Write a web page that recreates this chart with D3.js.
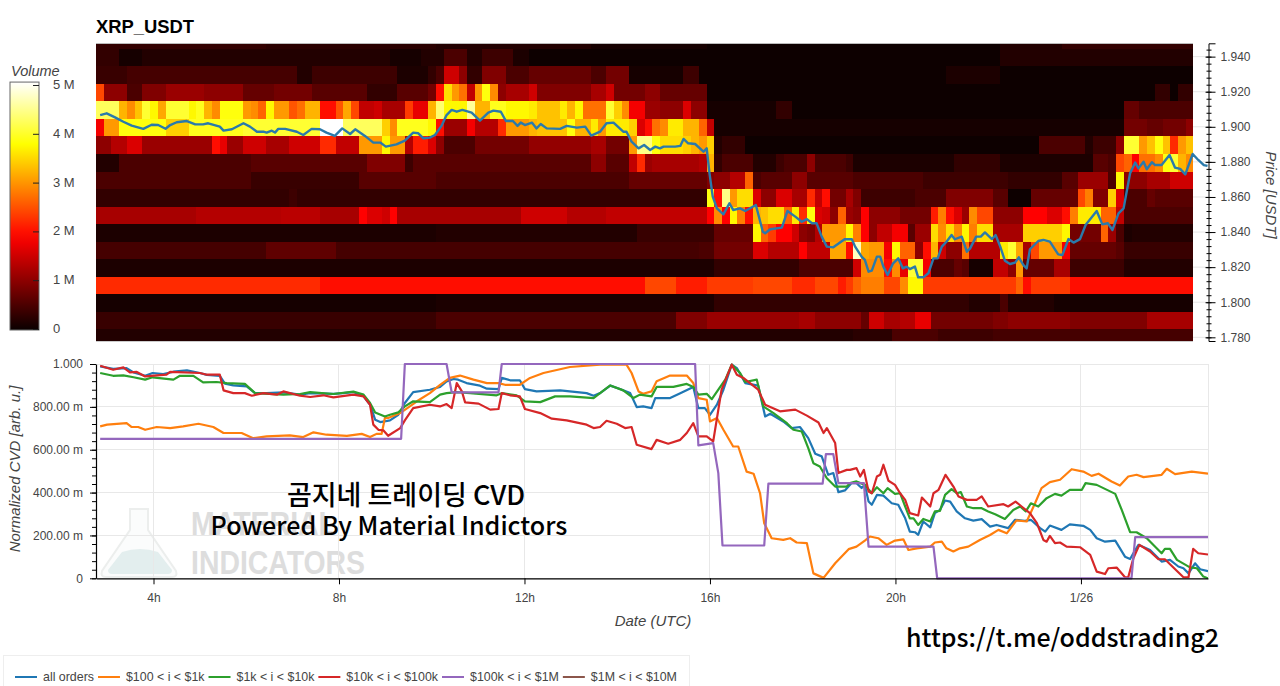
<!DOCTYPE html>
<html>
<head>
<meta charset="utf-8">
<script src="https://cdn.jsdelivr.net/npm/d3@7"></script>
<style>
  html, body { margin: 0; padding: 0; background: #fff; overflow: hidden; }
  text { font-family: "Liberation Sans", Arial, sans-serif; }
  .tick text { font-size: 12px; fill: #444; }
  .axis-label { font-size: 15px; font-style: italic; fill: #444; }
  .overlay { font-family: "Noto Sans CJK KR", "Noto Sans", sans-serif; font-weight: 500; fill: #000; }
</style>
</head>
<body>
<svg id="chart" width="1280" height="686"></svg>
<script>
// heatmap bins: 10 minutes each, starting at the left edge of the chart
var binHours = 1 / 6, binCount = 142, startHour = 2.76, endHour = 26.74;

// volume per price band, [first bin, value in M] - value holds until the next entry
var band195 = [[0,.3],[22,.25],[44,.2],[64,.1],[79,.05],[117,.2],[125,.3]];
var band194 = [[0,.3],[3,.1],[6,.2],[38,.08],[42,.2],[45,.5],[48,.2],[50,.4],[54,.15],[56,.05],[117,.2]];
var band193 = [[0,.35],[4,.45],[26,.2],[28,.4],[39,.15],[43,.3],[44,.5],[45,1.5],[47,1.0],[48,.3],[50,.9],[53,.5],[56,.7],[64,.5],[66,.8],[69,.1],[76,.4],[78,.05],[110,.15],[117,.05]];
var band192 = [[0,2.4],[1,1.0],[4,.5],[6,.9],[9,1.1],[14,1.0],[19,.7],[23,.8],[28,.6],[35,.3],[39,.6],[43,.8],[44,2.0],[45,3.5],[46,3.0],[47,2.7],[48,1.4],[49,3.0],[50,3.8],[51,2.9],[52,1.0],[53,1.2],[56,1.5],[57,.9],[64,1.2],[66,1.5],[67,.8],[71,1.0],[73,.7],[79,.05],[137,.3],[139,.05],[140,.3]];
var band191 = [[0,4.2],[3,3.2],[4,2.9],[5,3.3],[6,4.0],[7,3.7],[8,3.1],[9,4.0],[12,3.7],[13,3.9],[14,3.2],[15,2.9],[16,3.8],[19,3.0],[20,2.9],[21,2.6],[22,3.7],[23,3.0],[25,2.5],[26,2.7],[27,3.2],[29,2.0],[31,2.5],[32,3.1],[33,2.4],[34,1.4],[36,1.5],[37,1.2],[40,2.3],[41,1.7],[43,3.2],[44,4.3],[45,3.7],[48,4.5],[49,3.2],[51,3.9],[53,3.7],[56,3.6],[57,3.3],[60,3.6],[61,3.2],[62,3.7],[63,2.7],[66,4.0],[67,3.4],[68,2.9],[69,1.8],[71,1.1],[73,1.0],[76,1.6],[77,1.0],[79,.1],[88,.3],[90,.05],[133,.7],[135,.5]];
var band190 = [[0,1.8],[1,3.0],[3,3.8],[9,3.4],[12,3.9],[19,4.0],[29,5.0],[32,4.2],[37,3.4],[38,2.9],[39,3.9],[43,3.7],[44,2.0],[45,1.1],[48,1.8],[49,1.3],[52,2.2],[53,3.0],[56,3.2],[57,3.3],[61,3.8],[62,3.2],[64,3.6],[65,3.0],[66,3.6],[69,3.4],[70,1.6],[71,2.0],[72,2.7],[73,2.9],[74,3.6],[76,3.2],[78,2.6],[79,1.4],[80,.1],[133,.8],[136,.7],[138,.8],[141,1.0]];
var band189 = [[0,1.0],[2,1.3],[4,1.6],[6,1.1],[15,2.0],[16,1.7],[17,1.1],[19,1.5],[22,1.2],[25,1.5],[29,2.2],[31,1.4],[34,3.0],[37,3.7],[38,3.0],[40,1.3],[41,2.1],[43,1.6],[44,1.0],[45,.5],[49,.8],[56,1.05],[64,1.2],[66,.8],[69,3.0],[70,4.4],[72,3.8],[73,3.5],[76,3.4],[77,3.2],[78,3.0],[79,3.4],[80,.2],[81,.3],[84,.05],[122,.5],[128,.2],[129,.4],[132,1.0],[133,4.0],[135,3.0],[136,3.3],[137,3.8],[138,3.3],[139,2.2],[140,3.0],[141,3.3]];
var band188 = [[0,.2],[3,.5],[20,.6],[35,.9],[40,.4],[41,.6],[64,1.0],[66,.6],[69,1.4],[70,2.2],[71,1.1],[72,1.2],[78,1.3],[79,3.2],[80,.3],[81,.5],[85,.2],[88,.4],[89,.5],[92,1.0],[93,.5],[97,.4],[98,.15],[111,.3],[117,.15],[129,.6],[131,.5],[132,2.4],[133,2.6],[134,1.9],[135,2.7],[137,2.9],[138,3.8],[139,4.0],[140,3.2],[141,2.9]];
var band187 = [[0,.5],[20,.35],[34,.6],[44,.5],[69,.7],[79,.9],[80,1.0],[82,1.3],[84,2.6],[85,.5],[86,.6],[90,1.0],[92,.6],[98,.5],[107,.4],[118,.3],[125,.6],[127,1.1],[131,.5],[132,3.7],[133,1.0],[136,1.2],[139,1.5]];
var band186 = [[0,.3],[25,.4],[26,.3],[79,3.8],[80,2.0],[81,4.4],[82,3.0],[83,3.5],[85,1.6],[86,1.0],[88,1.6],[90,1.2],[92,2.2],[93,1.4],[94,2.0],[95,.8],[97,1.2],[98,.9],[99,.4],[106,.5],[110,.9],[116,.6],[118,.05],[121,.7],[127,2.4],[128,2.8],[129,.9],[131,3.4],[132,1.6],[133,.5],[136,.7],[137,.6]];
var band185 = [[0,1.2],[13,1.3],[24,1.35],[29,1.2],[34,1.9],[35,1.6],[37,1.5],[38,1.9],[39,1.2],[55,1.5],[61,1.3],[66,1.4],[79,1.9],[80,2.9],[81,1.9],[82,3.7],[83,2.8],[84,2.0],[85,3.2],[86,3.3],[87,3.5],[89,2.6],[90,3.6],[91,2.2],[92,3.8],[93,1.6],[94,1.5],[95,1.0],[96,2.6],[97,1.1],[98,1.0],[99,1.9],[100,1.0],[104,.8],[108,2.1],[109,2.8],[110,2.0],[111,1.6],[112,1.1],[113,2.9],[114,2.4],[116,1.0],[120,1.9],[123,1.6],[125,2.0],[126,2.8],[127,3.6],[130,2.6],[132,1.4],[133,.5]];
var band184 = [[0,.15],[44,.2],[70,.35],[80,.7],[85,3.7],[86,2.6],[87,2.3],[88,1.9],[90,1.5],[91,1.0],[92,.9],[93,1.3],[94,3.0],[97,3.7],[98,2.8],[99,1.9],[100,1.0],[101,1.4],[103,1.8],[105,.6],[106,1.1],[108,3.5],[109,2.9],[110,3.5],[111,2.9],[112,3.7],[113,2.8],[114,3.5],[116,1.2],[120,3.4],[125,3.7],[126,.8],[130,2.6],[131,1.1],[132,.5],[133,.15],[134,.2]];
var band183 = [[0,.45],[22,.65],[31,.45],[78,.5],[80,.8],[85,1.6],[87,1.3],[91,1.9],[92,1.4],[95,3.1],[97,2.0],[98,4.7],[99,3.1],[100,3.0],[102,1.8],[103,3.7],[104,2.6],[106,1.0],[107,2.0],[108,3.2],[109,1.5],[110,1.0],[112,2.7],[113,1.3],[117,3.6],[118,4.0],[119,3.1],[120,1.2],[121,2.4],[122,3.0],[125,1.8],[126,.7],[132,.6],[133,.35]];
var band182 = [[0,.15],[80,.3],[91,.5],[98,1.5],[99,2.9],[102,2.0],[103,2.9],[104,1.7],[105,4.0],[107,1.8],[108,.5],[111,.7],[112,.6],[113,.1],[116,1.4],[118,1.0],[119,3.0],[120,.7],[124,1.2],[126,.4],[133,.2]];
var band181 = [[0,2.2],[29,2.0],[71,2.4],[75,2.1],[79,2.3],[85,2.4],[90,2.2],[93,2.4],[96,2.1],[97,2.3],[98,2.6],[99,2.8],[102,2.4],[104,2.9],[105,3.7],[107,2.3],[119,2.6],[120,2.0],[121,2.3],[126,2.0],[136,1.95]];
var band180 = [[0,.1],[44,.15],[80,.3],[113,.2],[117,.5],[118,.2],[124,.1]];
var band179 = [[0,.35],[44,.5],[75,.9],[79,1.1],[91,1.2],[93,1.0],[99,.7],[100,1.5],[102,1.2],[104,1.3],[106,1.7],[108,.8],[116,.9],[118,1.0],[126,.9],[136,1.2]];
var band178 = [[0,.2],[98,.25],[103,.5],[109,.4],[116,.45]];

var bands = [
  [1.9495, band195], [1.9395, band194], [1.9295, band193], [1.9195, band192], [1.9095, band191], [1.8995, band190],
  [1.8895, band189], [1.8795, band188], [1.8695, band187], [1.8595, band186], [1.8495, band185], [1.8395, band184],
  [1.8295, band183], [1.8195, band182], [1.8095, band181], [1.7995, band180], [1.7895, band179], [1.7795, band178]
];

// mid price, [hour, USDT]
var priceLine = [[2.85,1.9067],[2.99,1.9077],[3.17,1.9054],[3.35,1.9029],[3.53,1.9007],[3.78,1.8988],[3.96,1.9012],[4.10,1.9010],[4.26,1.8989],[4.36,1.9010],[4.50,1.9026],[4.72,1.9033],[4.90,1.9014],[5.07,1.9014],[5.18,1.9020],[5.43,1.9001],[5.51,1.8978],[5.69,1.8986],[5.94,1.9020],[6.08,1.9001],[6.23,1.8972],[6.37,1.8972],[6.44,1.8967],[6.55,1.8978],[6.62,1.8967],[6.69,1.8988],[6.84,1.8988],[7.09,1.8972],[7.23,1.8953],[7.41,1.8988],[7.59,1.8986],[7.73,1.8967],[7.91,1.8948],[8.07,1.8991],[8.24,1.8959],[8.35,1.8986],[8.56,1.8948],[8.74,1.8910],[8.89,1.8910],[9.01,1.8887],[9.24,1.8900],[9.42,1.8921],[9.60,1.8967],[9.71,1.8963],[9.82,1.8934],[9.96,1.8938],[10.07,1.8953],[10.21,1.9005],[10.32,1.9067],[10.43,1.9096],[10.54,1.9086],[10.66,1.9096],[10.86,1.9081],[11.04,1.9035],[11.22,1.9081],[11.33,1.9092],[11.49,1.9086],[11.60,1.9033],[11.75,1.9033],[11.85,1.9005],[11.92,1.9024],[12.01,1.9010],[12.16,1.9024],[12.26,1.8991],[12.35,1.9016],[12.48,1.8991],[12.77,1.8988],[12.91,1.9005],[13.13,1.8995],[13.31,1.9001],[13.44,1.8950],[13.63,1.8972],[13.77,1.9020],[13.92,1.9024],[14.13,1.8972],[14.20,1.8972],[14.31,1.8915],[14.46,1.8877],[14.58,1.8896],[14.71,1.8868],[14.82,1.8887],[14.92,1.8877],[15.00,1.8887],[15.25,1.8887],[15.36,1.8891],[15.43,1.8931],[15.53,1.8906],[15.68,1.8902],[15.86,1.8858],[15.93,1.8877],[15.99,1.8735],[16.06,1.8602],[16.15,1.8535],[16.29,1.8501],[16.42,1.8564],[16.50,1.8526],[16.65,1.8535],[16.76,1.8520],[16.99,1.8554],[17.14,1.8402],[17.19,1.8393],[17.30,1.8416],[17.55,1.8425],[17.67,1.8520],[17.84,1.8488],[17.98,1.8459],[18.09,1.8474],[18.20,1.8450],[18.30,1.8450],[18.41,1.8374],[18.52,1.8317],[18.66,1.8313],[18.91,1.8360],[19.06,1.8359],[19.13,1.8317],[19.27,1.8260],[19.34,1.8241],[19.42,1.8174],[19.49,1.8180],[19.60,1.8260],[19.67,1.8260],[19.74,1.8203],[19.83,1.8155],[19.95,1.8222],[20.06,1.8250],[20.16,1.8193],[20.24,1.8203],[20.31,1.8189],[20.42,1.8203],[20.49,1.8142],[20.60,1.8142],[20.71,1.8165],[20.82,1.8250],[20.91,1.8250],[21.00,1.8317],[21.10,1.8345],[21.21,1.8383],[21.28,1.8359],[21.43,1.8374],[21.54,1.8288],[21.61,1.8307],[21.74,1.8374],[21.84,1.8374],[21.93,1.8398],[22.08,1.8360],[22.16,1.8383],[22.26,1.8317],[22.36,1.8237],[22.47,1.8218],[22.58,1.8226],[22.66,1.8256],[22.76,1.8212],[22.83,1.8193],[22.90,1.8302],[23.08,1.8349],[23.19,1.8355],[23.33,1.8345],[23.51,1.8273],[23.60,1.8269],[23.73,1.8360],[23.84,1.8340],[23.98,1.8360],[24.10,1.8440],[24.34,1.8520],[24.46,1.8444],[24.58,1.8450],[24.68,1.8412],[24.81,1.8507],[24.92,1.8535],[25.06,1.8735],[25.17,1.8796],[25.24,1.8763],[25.35,1.8801],[25.42,1.8758],[25.53,1.8798],[25.60,1.8782],[25.74,1.8782],[25.91,1.8839],[26.03,1.8767],[26.14,1.8760],[26.25,1.8729],[26.41,1.8845],[26.53,1.8811],[26.65,1.8782],[26.73,1.8777]];

// normalized CVD, [hour, value]
var cvdAll = [[2.85,.989],[3.13,.977],[3.42,.981],[3.57,.961],[3.82,.945],[3.98,.958],[4.21,.953],[4.43,.964],[4.72,.970],[5.00,.958],[5.15,.949],[5.43,.945],[5.54,.908],[5.72,.900],[6.01,.896],[6.19,.864],[6.44,.864],[6.80,.868],[7.16,.857],[7.38,.864],[7.88,.861],[8.09,.864],[8.31,.869],[8.53,.849],[8.67,.810],[8.78,.740],[8.89,.729],[9.10,.737],[9.28,.763],[9.42,.818],[9.60,.869],[9.96,.880],[10.18,.893],[10.32,.919],[10.47,.930],[10.57,.927],[10.75,.911],[11.04,.899],[11.19,.885],[11.44,.883],[11.51,.935],[11.69,.924],[11.90,.924],[12.01,.883],[12.26,.872],[12.77,.877],[13.34,.864],[13.49,.852],[13.63,.864],[13.85,.899],[14.06,.883],[14.28,.864],[14.42,.799],[14.56,.802],[14.74,.794],[14.82,.841],[15.14,.841],[15.36,.864],[15.64,.893],[15.75,.794],[15.89,.794],[16.00,.763],[16.15,.810],[16.29,.880],[16.47,.997],[16.58,.981],[16.76,.911],[17.04,.899],[17.19,.755],[17.30,.768],[17.58,.732],[17.76,.701],[17.94,.706],[18.12,.654],[18.27,.581],[18.41,.569],[18.55,.483],[18.66,.491],[18.77,.402],[18.91,.410],[19.05,.444],[19.16,.444],[19.27,.421],[19.34,.436],[19.42,.358],[19.49,.343],[19.60,.389],[19.74,.386],[19.92,.350],[20.06,.343],[20.21,.280],[20.31,.218],[20.42,.215],[20.49,.203],[20.60,.265],[20.75,.238],[20.85,.304],[20.96,.319],[21.07,.363],[21.18,.358],[21.32,.312],[21.50,.280],[21.68,.269],[21.86,.276],[22.04,.241],[22.18,.249],[22.43,.234],[22.58,.273],[22.79,.268],[22.92,.273],[23.12,.234],[23.23,.218],[23.33,.246],[23.58,.226],[23.76,.252],[24.05,.245],[24.20,.226],[24.34,.187],[24.52,.171],[24.74,.176],[24.95,.101],[25.06,.090],[25.13,.117],[25.24,.156],[25.49,.132],[25.74,.078],[25.92,.086],[26.10,.055],[26.21,.047],[26.32,.023],[26.46,.070],[26.57,.042],[26.74,.033]];
var cvd100 = [[2.85,.709],[3.00,.717],[3.42,.724],[3.53,.706],[3.67,.706],[3.82,.693],[4.07,.706],[4.36,.701],[4.64,.709],[4.97,.721],[5.29,.706],[5.51,.678],[5.90,.678],[6.15,.654],[6.44,.662],[6.94,.667],[7.23,.659],[7.45,.681],[7.73,.670],[8.17,.665],[8.49,.674],[8.67,.659],[8.81,.674],[8.92,.674],[8.99,.748],[9.06,.748],[9.32,.771],[9.68,.826],[9.96,.864],[10.18,.903],[10.39,.935],[10.61,.946],[10.90,.927],[11.19,.911],[11.44,.911],[11.58,.903],[11.90,.903],[12.12,.935],[12.41,.958],[12.98,.986],[13.63,.997],[14.20,.997],[14.31,.958],[14.46,.872],[14.56,.861],[14.74,.872],[14.85,.919],[15.14,.946],[15.50,.946],[15.64,.911],[15.75,.841],[15.93,.833],[16.00,.732],[16.15,.748],[16.29,.693],[16.50,.615],[16.61,.615],[16.79,.498],[16.94,.488],[17.08,.397],[17.17,.257],[17.33,.187],[17.58,.179],[17.73,.187],[17.87,.167],[18.09,.164],[18.23,.023],[18.45,.002],[18.70,.070],[18.99,.136],[19.16,.148],[19.34,.176],[19.45,.195],[19.63,.187],[19.81,.156],[19.99,.176],[20.17,.182],[20.28,.132],[20.46,.140],[20.75,.148],[20.85,.167],[21.00,.171],[21.10,.140],[21.25,.125],[21.39,.140],[21.57,.148],[21.82,.179],[22.04,.202],[22.22,.226],[22.40,.210],[22.61,.270],[22.83,.265],[23.01,.350],[23.15,.421],[23.33,.449],[23.55,.460],[23.80,.509],[24.05,.498],[24.23,.478],[24.38,.488],[24.66,.452],[24.84,.433],[25.02,.475],[25.20,.483],[25.35,.472],[25.74,.483],[25.85,.511],[26.03,.486],[26.39,.498],[26.74,.488]];
var cvd1k = [[2.85,.958],[3.13,.945],[3.35,.947],[3.57,.938],[3.82,.927],[3.98,.938],[4.43,.927],[4.57,.945],[4.86,.945],[5.07,.914],[5.36,.916],[5.58,.911],[5.97,.907],[6.19,.864],[6.80,.857],[7.16,.860],[7.38,.869],[7.88,.860],[8.31,.871],[8.53,.857],[8.67,.818],[8.78,.774],[8.99,.755],[9.10,.763],[9.28,.774],[9.42,.802],[9.60,.826],[9.96,.822],[10.18,.857],[10.32,.864],[10.54,.869],[10.83,.864],[11.40,.854],[11.51,.864],[11.83,.854],[12.01,.826],[12.34,.822],[12.66,.849],[12.98,.849],[13.49,.841],[13.63,.864],[13.85,.900],[14.13,.877],[14.35,.841],[14.49,.857],[14.74,.849],[14.85,.893],[15.21,.893],[15.50,.907],[15.64,.893],[15.75,.857],[15.93,.861],[16.04,.836],[16.18,.880],[16.33,.927],[16.47,.997],[16.65,.958],[16.76,.916],[17.01,.927],[17.15,.802],[17.37,.771],[17.66,.724],[17.80,.693],[17.98,.685],[18.12,.607],[18.23,.537],[18.37,.522],[18.52,.467],[18.70,.428],[18.95,.428],[19.02,.444],[19.16,.452],[19.34,.436],[19.49,.397],[19.60,.425],[19.74,.397],[19.83,.421],[19.99,.394],[20.10,.397],[20.21,.335],[20.31,.280],[20.39,.280],[20.49,.249],[20.60,.277],[20.75,.265],[20.85,.312],[20.96,.315],[21.07,.389],[21.21,.416],[21.32,.397],[21.41,.402],[21.54,.335],[21.68,.327],[21.86,.327],[22.00,.312],[22.15,.299],[22.36,.277],[22.54,.319],[22.69,.335],[22.81,.312],[22.92,.350],[23.08,.335],[23.26,.374],[23.44,.394],[23.58,.386],[23.76,.413],[24.02,.413],[24.10,.444],[24.34,.436],[24.74,.394],[24.88,.319],[25.06,.215],[25.20,.215],[25.42,.187],[25.74,.117],[25.81,.137],[25.92,.137],[26.07,.086],[26.35,.051],[26.50,.047],[26.64,.008],[26.74,0]];
var cvd10k = [[2.85,.992],[3.13,.973],[3.35,.984],[3.49,.961],[3.64,.963],[3.82,.942],[4.28,.950],[4.36,.963],[5.00,.958],[5.15,.950],[5.43,.950],[5.51,.877],[5.72,.864],[5.97,.864],[6.12,.852],[6.37,.864],[6.66,.857],[6.80,.872],[7.16,.852],[7.38,.846],[7.66,.854],[7.88,.844],[8.31,.857],[8.53,.849],[8.67,.810],[8.74,.717],[8.85,.693],[8.96,.690],[9.06,.665],[9.32,.701],[9.42,.737],[9.60,.794],[9.96,.810],[10.18,.802],[10.32,.813],[10.43,.794],[10.54,.911],[10.65,.872],[10.72,.821],[11.01,.815],[11.26,.787],[11.44,.790],[11.51,.864],[11.69,.854],[11.90,.849],[12.01,.790],[12.34,.771],[12.59,.745],[12.91,.737],[13.34,.717],[13.49,.701],[13.63,.706],[13.77,.735],[13.99,.721],[14.17,.701],[14.31,.706],[14.42,.623],[14.74,.603],[14.85,.646],[15.10,.628],[15.36,.646],[15.50,.678],[15.64,.724],[15.75,.662],[15.93,.662],[16.07,.639],[16.25,.880],[16.47,.997],[16.58,.950],[16.72,.935],[17.04,.880],[17.19,.810],[17.51,.779],[17.84,.787],[18.09,.759],[18.34,.727],[18.45,.678],[18.52,.701],[18.70,.631],[18.77,.491],[18.95,.506],[19.02,.506],[19.16,.514],[19.24,.475],[19.32,.506],[19.42,.405],[19.49,.397],[19.60,.475],[19.67,.483],[19.74,.530],[19.85,.455],[19.99,.436],[20.10,.397],[20.21,.366],[20.31,.304],[20.49,.293],[20.57,.377],[20.75,.335],[20.82,.397],[20.93,.413],[21.08,.483],[21.25,.428],[21.36,.382],[21.54,.366],[21.75,.366],[21.86,.382],[22.00,.335],[22.33,.346],[22.43,.335],[22.59,.358],[22.72,.335],[22.90,.304],[23.05,.257],[23.19,.179],[23.26,.171],[23.33,.198],[23.44,.164],[23.55,.167],[23.69,.148],[23.98,.145],[24.20,.109],[24.34,.031],[24.52,.020],[24.59,.047],[24.77,.050],[24.95,.005],[25.02,.005],[25.13,.093],[25.26,.156],[25.49,.125],[25.67,.089],[25.81,.089],[26.21,.005],[26.32,.005],[26.42,.137],[26.53,.117],[26.74,.111]];
var cvd100k = [[2.85,.651],[9.34,.651],[9.42,1],[10.32,1],[10.43,.868],[11.44,.868],[11.51,1],[15.68,1],[15.75,.620],[16.07,.631],[16.18,.491],[16.27,.153],[17.17,.153],[17.26,.442],[18.43,.442],[18.50,.579],[18.66,.579],[18.77,.444],[19.32,.444],[19.42,.148],[20.82,.148],[20.90,0],[25.09,0],[25.17,.192],[26.74,.192]];

var priceTicks = [1.78, 1.80, 1.82, 1.84, 1.86, 1.88, 1.90, 1.92, 1.94];
var cvdTicks = [0, .2, .4, .6, .8, 1];
var cvdTickLabels = ['0', '200.00 m', '400.00 m', '600.00 m', '800.00 m', '1.000'];
var hourTicks = [4, 8, 12, 16, 20, 24];
var hourTickLabels = ['4h', '8h', '12h', '16h', '20h', '1/26'];
var volumeTicks = [0, 1, 2, 3, 4, 5];
var volumeTickLabels = ['0', '1 M', '2 M', '3 M', '4 M', '5 M'];

var seriesNames = ['all orders', '$100 < i < $1k', '$1k < i < $10k', '$10k < i < $100k', '$100k < i < $1M', '$1M < i < $10M'];
var seriesColors = ['#1f77b4', '#ff7f0e', '#2ca02c', '#d62728', '#9467bd', '#8c564b'];
var seriesData = [cvdAll, cvd100, cvd1k, cvd10k, cvd100k, []];

var svg = d3.select('#chart');

var x = d3.scaleLinear().domain([startHour, endHour]).range([96, 1208]);
var yPrice = d3.scaleLinear().domain([1.7779, 1.9476]).range([341, 43.3]);
var yCvd = d3.scaleLinear().domain([0, 1]).range([578.3, 364]);
var yVolume = d3.scaleLinear().domain([0, 5]).range([329, 85]);
var heat = d3.scaleLinear().domain([0, 1.875, 3.75, 5]).range(['#0a0000', '#ff0000', '#ffff00', '#ffffff']).clamp(true);

var defs = svg.append('defs');
defs.append('clipPath').attr('id', 'heatClip').append('rect')
  .attr('x', 96).attr('y', 43.3).attr('width', x(startHour + binCount * binHours) - 96).attr('height', 297.7);
defs.append('clipPath').attr('id', 'cvdClip').append('rect')
  .attr('x', 96).attr('y', 362).attr('width', 1112).attr('height', 218);
defs.append('filter').attr('id', 'soften').attr('filterUnits', 'userSpaceOnUse')
  .attr('x', 80).attr('y', 20).attr('width', 1140).attr('height', 340)
  .append('feGaussianBlur').attr('stdDeviation', 0.6);

// ---- title
svg.append('text').attr('x', 96).attr('y', 33).attr('font-size', 18.4).attr('font-weight', 'bold').text('XRP_USDT');

// ---- heatmap
var frame = svg.append('g');
frame.selectAll('.pgrid').data(priceTicks).enter().append('line')
  .attr('x1', 1193).attr('x2', 1208).attr('y1', yPrice).attr('y2', yPrice).attr('stroke', '#e6e6e6');

var heatGroup = svg.append('g').attr('clip-path', 'url(#heatClip)')
  .append('g').attr('filter', 'url(#soften)').attr('shape-rendering', 'crispEdges');
bands.forEach(function (band) {
  var runs = band[1];
  runs.forEach(function (run, i) {
    var first = run[0];
    var next = i + 1 < runs.length ? runs[i + 1][0] : binCount;
    var x0 = x(startHour + first * binHours), x1 = x(startHour + next * binHours);
    heatGroup.append('rect')
      .attr('x', x0).attr('width', x1 - x0)
      .attr('y', yPrice(band[0] + 0.005)).attr('height', yPrice(band[0] - 0.005) - yPrice(band[0] + 0.005))
      .attr('fill', heat(run[1]));
  });
});

svg.append('line').attr('x1', 96).attr('x2', 1193).attr('y1', 43.5).attr('y2', 43.5).attr('stroke', '#bbb');
svg.append('line').attr('x1', 96).attr('x2', 1193).attr('y1', 341.5).attr('y2', 341.5).attr('stroke', '#ccc');

var priceAxis = svg.append('g').attr('transform', 'translate(1208.5,0)')
  .call(d3.axisRight(yPrice).tickValues(priceTicks).tickFormat(d3.format('.3f')).tickSizeOuter(0).tickSize(7).tickPadding(5));
priceAxis.selectAll('.tick line').attr('x1', -3);
priceAxis.select('.domain').attr('stroke', '#000');
svg.append('g').attr('transform', 'translate(1208.5,0)')
  .call(d3.axisRight(yPrice).tickValues(d3.range(1.78, 1.947, 0.004)).tickFormat('').tickSize(3).tickSizeOuter(0))
  .call(function (g) { g.select('.domain').remove(); g.selectAll('.tick line').attr('x1', -2); });

svg.append('text').attr('class', 'axis-label')
  .attr('transform', 'translate(1266,195) rotate(90)').attr('text-anchor', 'middle').text('Price [USDT]');

var priceGen = d3.line().x(function (d) { return x(d[0]); }).y(function (d) { return yPrice(d[1]); });
svg.append('path').datum(priceLine).attr('d', priceGen).attr('fill', 'none')
  .attr('stroke', '#2a7aab').attr('stroke-width', 2.4).attr('stroke-linejoin', 'round');

// ---- volume colorbar
var gradient = defs.append('linearGradient').attr('id', 'volumeRamp')
  .attr('x1', 0).attr('x2', 0).attr('y1', 1).attr('y2', 0);
d3.range(0, 5.01, 0.25).forEach(function (v) {
  gradient.append('stop').attr('offset', v / 5).attr('stop-color', heat(v));
});
svg.append('rect').attr('x', 10).attr('y', yVolume(5.06)).attr('width', 29).attr('height', yVolume(0) - yVolume(5.06) + 1)
  .attr('fill', 'url(#volumeRamp)').attr('stroke', '#666');
var volumeAxis = svg.append('g').attr('transform', 'translate(39,0)')
  .call(d3.axisLeft(yVolume).tickValues(volumeTicks).tickFormat('').tickSize(6).tickSizeOuter(0));
volumeAxis.select('.domain').remove();
volumeAxis.selectAll('.tick line').attr('stroke', '#222');
svg.selectAll('.vlabel').data(volumeTicks).enter().append('text')
  .attr('x', 53).attr('y', function (d) { return yVolume(d) + 4; })
  .attr('font-size', 13).attr('fill', '#444')
  .text(function (d, i) { return volumeTickLabels[i]; });
svg.append('text').attr('x', 11).attr('y', 76).attr('font-size', 14.5).attr('font-style', 'italic').attr('fill', '#444').text('Volume');

// ---- watermark under the CVD lines
var mark = svg.append('g');
mark.append('path')
  .attr('d', 'M130 509 L148 509 L148 530 L176 571 Q178 577 172 577 L106 577 Q100 577 102 571 L130 530 Z')
  .attr('fill', '#fbfcfc').attr('stroke', '#eceeed').attr('stroke-width', 2);
mark.append('path')
  .attr('d', 'M108 570 L122 552 Q140 546 158 552 L172 570 Q172 574 168 574 L112 574 Q108 574 108 570 Z')
  .attr('fill', '#e3eeee');
mark.append('text').attr('x', 191).attr('y', 535).attr('font-family', 'Roboto').attr('font-weight', 900)
  .attr('font-size', 33).attr('fill', '#dddddd').attr('textLength', 145).attr('lengthAdjust', 'spacingAndGlyphs').text('MATERIAL');
mark.append('text').attr('x', 191).attr('y', 574).attr('font-family', 'Roboto').attr('font-weight', 900)
  .attr('font-size', 33).attr('fill', '#dddddd').attr('textLength', 174).attr('lengthAdjust', 'spacingAndGlyphs').text('INDICATORS');

// ---- CVD panel
var cvdGrid = svg.append('g').attr('stroke', '#e8e8e8').attr('shape-rendering', 'crispEdges');
cvdGrid.selectAll('.hgrid').data(cvdTicks).enter().append('line')
  .attr('x1', 96).attr('x2', 1208).attr('y1', yCvd).attr('y2', yCvd);
cvdGrid.selectAll('.vgrid').data(hourTicks).enter().append('line')
  .attr('y1', 364).attr('y2', 578).attr('x1', x).attr('x2', x);
cvdGrid.append('line').attr('x1', 1208).attr('x2', 1208).attr('y1', 364).attr('y2', 578);

var lineGen = d3.line().x(function (d) { return x(d[0]); }).y(function (d) { return yCvd(d[1]); });
svg.append('g').attr('clip-path', 'url(#cvdClip)').selectAll('path').data(seriesData).enter().append('path')
  .attr('d', lineGen).attr('fill', 'none').attr('stroke-width', 2.2).attr('stroke-linejoin', 'round')
  .attr('stroke', function (d, i) { return seriesColors[i]; });

var cvdAxis = svg.append('g').attr('transform', 'translate(96,0)')
  .call(d3.axisLeft(yCvd).tickValues(cvdTicks).tickSize(6).tickSizeOuter(0).tickPadding(7)
    .tickFormat(function (d, i) { return cvdTickLabels[i]; }));
cvdAxis.select('.domain').attr('stroke', '#000').attr('stroke-width', 1.2);
svg.append('g').attr('transform', 'translate(96,0)')
  .call(d3.axisLeft(yCvd).tickValues(d3.range(0, 1.001, 0.04)).tickFormat('').tickSize(4).tickSizeOuter(0))
  .select('.domain').remove();

var hourAxis = svg.append('g').attr('transform', 'translate(0,578.3)')
  .call(d3.axisBottom(x).tickValues(hourTicks).tickSize(6).tickSizeOuter(0).tickPadding(9)
    .tickFormat(function (d, i) { return hourTickLabels[i]; }));
hourAxis.select('.domain').attr('stroke', '#000').attr('stroke-width', 1.2);

svg.append('text').attr('class', 'axis-label')
  .attr('transform', 'translate(20,469) rotate(-90)').attr('text-anchor', 'middle').text('Normalized CVD [arb. u.]');
svg.append('text').attr('class', 'axis-label').attr('x', 653).attr('y', 626).attr('text-anchor', 'middle').text('Date (UTC)');

// ---- overlay captions
svg.append('text').attr('class', 'overlay').attr('x', 406).attr('y', 505).attr('font-size', 27).attr('text-anchor', 'middle').text('곰지네 트레이딩 CVD');
svg.append('text').attr('class', 'overlay').attr('x', 389).attr('y', 535).attr('font-size', 25.1).attr('text-anchor', 'middle').text('Powered By Material Indictors');
svg.append('text').attr('class', 'overlay').attr('x', 906).attr('y', 647).attr('font-size', 25).text('https://t.me/oddstrading2');

// ---- legend
svg.append('rect').attr('x', 3.5).attr('y', 655.5).attr('width', 686).attr('height', 40).attr('fill', '#fff').attr('stroke', '#eeeeee');
var legendX = 15;
seriesNames.forEach(function (name, i) {
  svg.append('line').attr('x1', legendX).attr('x2', legendX + 22).attr('y1', 677).attr('y2', 677)
    .attr('stroke', seriesColors[i]).attr('stroke-width', 2);
  var label = svg.append('text').attr('x', legendX + 28).attr('y', 681).attr('font-size', 12.4).attr('fill', '#444').text(name);
  legendX += 28 + label.node().getComputedTextLength() + 4;
});
</script>
</body>
</html>
